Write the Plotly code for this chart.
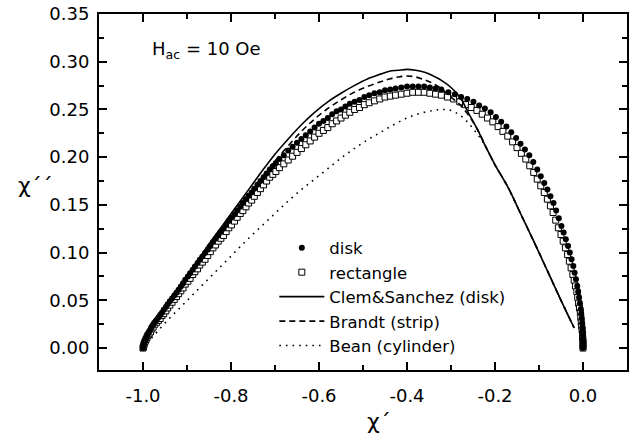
import plotly.graph_objects as go

# ---- data (chi', chi'') ----
disk_points = [
    (-1.000, 0.000), (-0.999, 0.002), (-0.998, 0.004), (-0.997, 0.006), (-0.995, 0.008),
    (-0.993, 0.010), (-0.991, 0.012), (-0.989, 0.0145), (-0.986, 0.017), (-0.983, 0.0195),
    (-0.980, 0.022), (-0.977, 0.0245), (-0.973, 0.027), (-0.969, 0.0295), (-0.965, 0.032),
    (-0.961, 0.0345), (-0.957, 0.037), (-0.953, 0.040), (-0.948, 0.043), (-0.944, 0.046),
    (-0.939, 0.049), (-0.934, 0.052), (-0.929, 0.055), (-0.924, 0.058), (-0.919, 0.061),
    (-0.914, 0.0645), (-0.909, 0.068), (-0.904, 0.0715), (-0.898, 0.075), (-0.893, 0.0785),
    (-0.887, 0.082), (-0.882, 0.0855), (-0.876, 0.089), (-0.871, 0.0925), (-0.865, 0.096),
    (-0.859, 0.0995), (-0.853, 0.103), (-0.847, 0.107), (-0.841, 0.111), (-0.835, 0.1145),
    (-0.829, 0.118), (-0.823, 0.1215), (-0.817, 0.125), (-0.811, 0.129), (-0.805, 0.133),
    (-0.799, 0.1365), (-0.792, 0.140), (-0.786, 0.144), (-0.779, 0.148), (-0.773, 0.152),
    (-0.766, 0.156), (-0.760, 0.1595), (-0.753, 0.163), (-0.747, 0.167), (-0.740, 0.171),
    (-0.733, 0.175), (-0.726, 0.179), (-0.719, 0.183), (-0.712, 0.187), (-0.705, 0.1905),
    (-0.698, 0.194), (-0.690, 0.198), (-0.680, 0.202), (-0.670, 0.207), (-0.660, 0.211),
    (-0.650, 0.215), (-0.640, 0.219), (-0.630, 0.223), (-0.620, 0.227), (-0.610, 0.231),
    (-0.600, 0.235), (-0.590, 0.238), (-0.580, 0.241), (-0.570, 0.245), (-0.560, 0.248),
    (-0.550, 0.250), (-0.540, 0.253), (-0.530, 0.256), (-0.519, 0.258), (-0.508, 0.260),
    (-0.497, 0.263), (-0.486, 0.265), (-0.474, 0.267), (-0.462, 0.268), (-0.450, 0.270),
    (-0.438, 0.271), (-0.426, 0.272), (-0.413, 0.273), (-0.400, 0.274), (-0.387, 0.274),
    (-0.374, 0.274), (-0.361, 0.274), (-0.348, 0.273), (-0.335, 0.272), (-0.322, 0.271),
    (-0.306, 0.268), (-0.291, 0.266), (-0.277, 0.263), (-0.263, 0.261), (-0.249, 0.258),
    (-0.236, 0.254), (-0.223, 0.251), (-0.210, 0.247), (-0.198, 0.242), (-0.186, 0.237),
    (-0.174, 0.232), (-0.163, 0.226), (-0.152, 0.220), (-0.142, 0.214), (-0.132, 0.208),
    (-0.122, 0.202), (-0.113, 0.195), (-0.104, 0.187), (-0.096, 0.180), (-0.088, 0.173),
    (-0.081, 0.166), (-0.074, 0.159), (-0.067, 0.152), (-0.061, 0.144), (-0.055, 0.136),
    (-0.049, 0.128), (-0.044, 0.121), (-0.039, 0.114), (-0.034, 0.107), (-0.030, 0.100),
    (-0.026, 0.093), (-0.022, 0.086), (-0.019, 0.079), (-0.016, 0.072), (-0.013, 0.065),
    (-0.011, 0.059), (-0.009, 0.053), (-0.007, 0.047), (-0.005, 0.041), (-0.004, 0.036),
    (-0.003, 0.031), (-0.002, 0.026), (-0.001, 0.021), (-0.001, 0.017), (0.000, 0.013),
    (0.000, 0.009), (0.000, 0.006), (0.000, 0.003), (0.000, 0.000),
]

rect_points = [
    (-1.000, 0.000), (-0.999, 0.001), (-0.998, 0.003), (-0.997, 0.005), (-0.995, 0.007),
    (-0.993, 0.009), (-0.991, 0.011), (-0.989, 0.013), (-0.986, 0.015), (-0.983, 0.017),
    (-0.980, 0.020), (-0.977, 0.022), (-0.973, 0.025), (-0.969, 0.027), (-0.965, 0.029),
    (-0.961, 0.031), (-0.957, 0.034), (-0.953, 0.036), (-0.948, 0.039), (-0.944, 0.042),
    (-0.939, 0.045), (-0.934, 0.048), (-0.929, 0.051), (-0.924, 0.054), (-0.919, 0.057),
    (-0.914, 0.060), (-0.909, 0.063), (-0.904, 0.067), (-0.898, 0.070), (-0.893, 0.073),
    (-0.887, 0.077), (-0.882, 0.080), (-0.876, 0.083), (-0.871, 0.087), (-0.865, 0.090),
    (-0.859, 0.093), (-0.853, 0.097), (-0.847, 0.101), (-0.841, 0.105), (-0.835, 0.108),
    (-0.829, 0.112), (-0.823, 0.115), (-0.817, 0.118), (-0.811, 0.122), (-0.805, 0.126),
    (-0.799, 0.129), (-0.792, 0.133), (-0.786, 0.137), (-0.779, 0.141), (-0.773, 0.144),
    (-0.766, 0.148), (-0.760, 0.152), (-0.753, 0.155), (-0.747, 0.159), (-0.740, 0.163),
    (-0.733, 0.167), (-0.726, 0.171), (-0.719, 0.175), (-0.712, 0.179), (-0.705, 0.182),
    (-0.698, 0.185), (-0.690, 0.189), (-0.680, 0.193), (-0.670, 0.197), (-0.660, 0.201),
    (-0.650, 0.205), (-0.640, 0.209), (-0.630, 0.213), (-0.620, 0.217), (-0.610, 0.221),
    (-0.600, 0.225), (-0.590, 0.228), (-0.580, 0.231), (-0.570, 0.235), (-0.560, 0.238),
    (-0.550, 0.241), (-0.540, 0.244), (-0.530, 0.247), (-0.519, 0.250), (-0.508, 0.252),
    (-0.497, 0.255), (-0.486, 0.257), (-0.474, 0.259), (-0.462, 0.261), (-0.450, 0.263),
    (-0.438, 0.264), (-0.426, 0.265), (-0.413, 0.266), (-0.400, 0.267), (-0.387, 0.268),
    (-0.374, 0.268), (-0.361, 0.268), (-0.348, 0.267), (-0.335, 0.266), (-0.322, 0.265),
    (-0.308, 0.263), (-0.294, 0.261), (-0.280, 0.258), (-0.267, 0.255), (-0.254, 0.252),
    (-0.241, 0.249), (-0.229, 0.245), (-0.217, 0.241), (-0.205, 0.237), (-0.193, 0.232),
    (-0.182, 0.227), (-0.171, 0.222), (-0.160, 0.216), (-0.150, 0.210), (-0.140, 0.204),
    (-0.130, 0.198), (-0.121, 0.191), (-0.112, 0.184), (-0.104, 0.177), (-0.096, 0.170),
    (-0.088, 0.163), (-0.081, 0.156), (-0.074, 0.149), (-0.068, 0.142), (-0.062, 0.134),
    (-0.056, 0.126), (-0.050, 0.119), (-0.045, 0.112), (-0.040, 0.105), (-0.035, 0.098),
    (-0.031, 0.091), (-0.027, 0.084), (-0.023, 0.077), (-0.020, 0.071), (-0.017, 0.065),
    (-0.014, 0.059), (-0.012, 0.053), (-0.010, 0.047), (-0.008, 0.042), (-0.006, 0.037),
    (-0.005, 0.032), (-0.004, 0.027), (-0.003, 0.023), (-0.002, 0.019), (-0.001, 0.015),
    (-0.001, 0.011), (0.000, 0.008), (0.000, 0.005), (0.000, 0.002), (0.000, 0.000),
]

clem_x = [-1.000, -0.995, -0.988, -0.978, -0.965, -0.950, -0.930, -0.905, -0.880, -0.850,
          -0.820, -0.790, -0.760, -0.730, -0.700, -0.670, -0.640, -0.610, -0.580, -0.550,
          -0.520, -0.490, -0.460, -0.440, -0.420, -0.400, -0.380, -0.360, -0.340, -0.320,
          -0.300, -0.280, -0.260, -0.240, -0.220, -0.200, -0.170, -0.140, -0.110, -0.080,
          -0.050, -0.020]
clem_y = [0.000, 0.006, 0.013, 0.022, 0.032, 0.043, 0.057, 0.073, 0.089, 0.109,
          0.128, 0.147, 0.166, 0.185, 0.203, 0.219, 0.234, 0.247, 0.258, 0.267,
          0.275, 0.282, 0.287, 0.290, 0.291, 0.292, 0.291, 0.289, 0.285, 0.280,
          0.273, 0.263, 0.246, 0.229, 0.210, 0.192, 0.168, 0.139, 0.110, 0.080,
          0.050, 0.021]

brandt_x = [-1.000, -0.995, -0.988, -0.978, -0.965, -0.950, -0.930, -0.905, -0.880, -0.850,
            -0.820, -0.790, -0.760, -0.730, -0.700, -0.670, -0.640, -0.610, -0.580, -0.550,
            -0.520, -0.490, -0.460, -0.440, -0.420, -0.400, -0.380, -0.360, -0.340, -0.320,
            -0.300, -0.280, -0.260, -0.240, -0.220, -0.200, -0.170, -0.140, -0.110, -0.080,
            -0.050, -0.020]
brandt_y = [0.000, 0.006, 0.013, 0.021, 0.031, 0.042, 0.055, 0.071, 0.087, 0.106,
            0.125, 0.143, 0.161, 0.179, 0.196, 0.212, 0.227, 0.240, 0.251, 0.260,
            0.268, 0.274, 0.279, 0.282, 0.284, 0.285, 0.284, 0.281, 0.277, 0.271,
            0.263, 0.255, 0.244, 0.229, 0.210, 0.192, 0.168, 0.139, 0.110, 0.080,
            0.050, 0.021]

bean_x = [-1.000, -0.985, -0.968, -0.940, -0.910, -0.880, -0.850, -0.820, -0.790, -0.760,
          -0.730, -0.700, -0.670, -0.640, -0.610, -0.580, -0.550, -0.520, -0.490, -0.460,
          -0.430, -0.400, -0.370, -0.340, -0.320, -0.300, -0.280, -0.265, -0.250, -0.235,
          -0.220, -0.200, -0.170, -0.140, -0.110, -0.080, -0.050, -0.020]
bean_y = [0.000, 0.008, 0.017, 0.031, 0.045, 0.059, 0.073, 0.087, 0.101, 0.115,
          0.128, 0.141, 0.154, 0.166, 0.177, 0.188, 0.199, 0.209, 0.218, 0.226,
          0.234, 0.241, 0.246, 0.249, 0.250, 0.249, 0.244, 0.238, 0.230, 0.221,
          0.210, 0.192, 0.168, 0.139, 0.110, 0.080, 0.050, 0.021]

x_ticks = [-1.0, -0.8, -0.6, -0.4, -0.2, 0.0]
x_ticktext = ["-1.0", "-0.8", "-0.6", "-0.4", "-0.2", "0.0"]
y_ticks = [0.00, 0.05, 0.10, 0.15, 0.20, 0.25, 0.30, 0.35]
y_ticktext = ["0.00", "0.05", "0.10", "0.15", "0.20", "0.25", "0.30", "0.35"]

disk_x = [p[0] for p in disk_points]
disk_y = [p[1] for p in disk_points]
rect_x = [p[0] for p in rect_points]
rect_y = [p[1] for p in rect_points]

FONT = "DejaVu Sans, Liberation Sans, Arial, sans-serif"

fig = go.Figure()
fig.add_trace(go.Scatter(x=rect_x, y=rect_y, mode="markers", name="rectangle", legendrank=2,
                         marker=dict(symbol="square", size=6, color="white",
                                     line=dict(color="black", width=1))))
fig.add_trace(go.Scatter(x=disk_x, y=disk_y, mode="markers", name="disk", legendrank=1,
                         marker=dict(symbol="circle", size=6, color="black",
                                     line=dict(width=0))))
fig.add_trace(go.Scatter(x=clem_x, y=clem_y, mode="lines", name="Clem&Sanchez (disk)",
                         legendrank=3,
                         line=dict(color="black", width=1.6, shape="spline")))
fig.add_trace(go.Scatter(x=brandt_x, y=brandt_y, mode="lines", name="Brandt (strip)",
                         legendrank=4,
                         line=dict(color="black", width=1.6, dash="6px,4px", shape="spline")))
fig.add_trace(go.Scatter(x=bean_x, y=bean_y, mode="lines", name="Bean (cylinder)",
                         legendrank=5,
                         line=dict(color="black", width=1.6, dash="1.6px,5px", shape="spline")))

axis_common = dict(showgrid=False, zeroline=False, showline=True, linecolor="black",
                   linewidth=2, mirror="ticks", ticks="inside", ticklen=8, tickwidth=2,
                   tickcolor="black", tickfont=dict(family=FONT, size=18, color="black"))

fig.update_layout(
    template="simple_white",
    width=629, height=438,
    margin=dict(l=99, r=0, t=14, b=68),
    paper_bgcolor="white", plot_bgcolor="white",
    font=dict(family=FONT, size=18, color="black"),
    showlegend=True,
    legend=dict(x=(275 - 99) / 530, y=(370 - 230.5) / 356, xanchor="left", yanchor="top",
                bgcolor="rgba(0,0,0,0)", borderwidth=0, traceorder="normal",
                font=dict(family=FONT, size=16.5, color="black"), itemwidth=45,
                tracegroupgap=0),
    xaxis=dict(range=[-1.1, 0.1], tickmode="array", tickvals=x_ticks, ticktext=x_ticktext,
               ticklabelstandoff=8,
               minor=dict(dtick=0.1, tick0=0.0, ticks="inside", ticklen=5, tickwidth=2,
                          tickcolor="black", showgrid=False),
               **axis_common),
    yaxis=dict(range=[-0.023, 0.35], tickmode="array", tickvals=y_ticks, ticktext=y_ticktext,
               ticklabelstandoff=4,
               minor=dict(dtick=0.025, tick0=0.0, ticks="inside", ticklen=5, tickwidth=2,
                          tickcolor="black", showgrid=False),
               **axis_common),
)

fig.add_annotation(text="H<sub>ac</sub> = 10 Oe", xref="paper", yref="paper",
                   x=(150 - 99) / 530, y=(370 - 50) / 356, xanchor="left", yanchor="middle",
                   showarrow=False, font=dict(family=FONT, size=18, color="black"))
fig.add_annotation(text="χ´", xref="paper", yref="paper",
                   x=(380 - 99) / 530, y=(370 - 421) / 356, xanchor="center", yanchor="middle",
                   showarrow=False, font=dict(family=FONT, size=22, color="black"))
fig.add_annotation(text="χ´´", xref="paper", yref="paper",
                   x=(35 - 99) / 530, y=(370 - 186) / 356, xanchor="center", yanchor="middle",
                   showarrow=False, font=dict(family=FONT, size=22, color="black"))

fig.write_html("out.html", config={"displayModeBar": False})
